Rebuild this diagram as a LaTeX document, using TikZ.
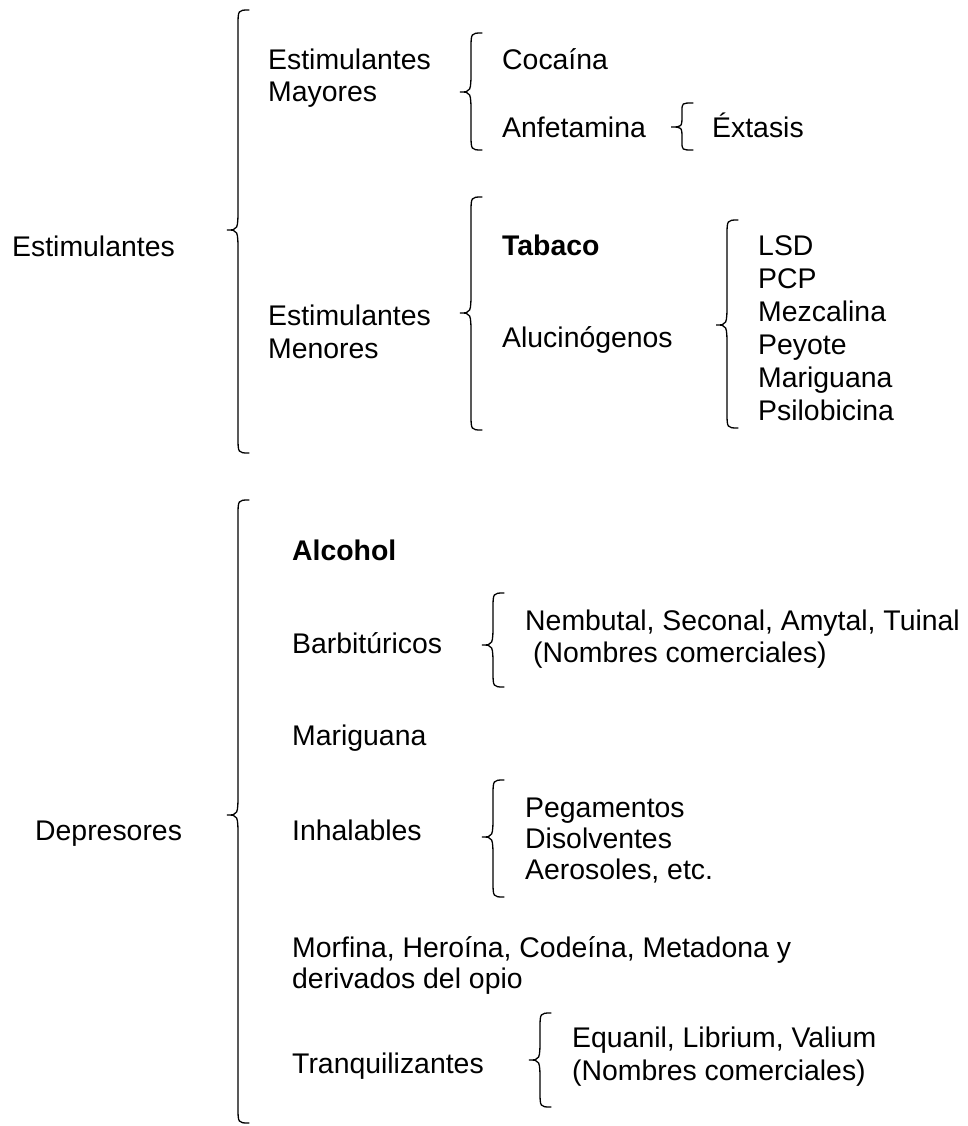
\documentclass[tikz,border=0pt]{standalone}
\usepackage{fontspec}
\setmainfont{Liberation Sans}
\usetikzlibrary{positioning}

% left curly brace: [end radius]{x of stem}{top}{tip}{bottom}
\newcommand{\llave}[5][16]{%
  \draw[llave] (#2+11,#3) .. controls (#2,#3) .. (#2,#3+#1)
    -- (#2,#4-1.5*#1) .. controls (#2,#4) .. (#2-11,#4)
    .. controls (#2,#4) .. (#2,#4+1.5*#1)
    -- (#2,#5-#1) .. controls (#2,#5) .. (#2+11,#5);}

\begin{document}
\begin{tikzpicture}[x=1pt,y=-1pt,
  txt/.style={anchor=base west,inner sep=0pt,font=\fontsize{28.4}{33}\selectfont},
  txtb/.style={txt,font=\fontsize{28.4}{33}\selectfont\bfseries},
  llave/.style={line width=1.3pt,line cap=round}]
\useasboundingbox (0,0) rectangle (967,1126);

% estimulantes
\node[txt] (estim) at (12,256) {Estimulantes};
\llave{238}{10}{230}{453}
\node[txt] (mayA) at (268,70) {Estimulantes};
\node[txt] (mayB) at (268,102) {Mayores};
\llave{471}{33}{92}{150}
\node[txt] (coca) at (502,70) {Cocaína};
\node[txt] (anfe) at (502,138) {Anfetamina};
\llave[8]{682}{103}{127}{150}
\node[txt] (extasis) at (712,138) {Éxtasis};

\node[txt] (menA) at (268,325) {Estimulantes};
\node[txt] (menB) at (268,358) {Menores};
\llave{471}{197}{313}{430}
\node[txtb] (tabaco) at (502,255) {Tabaco};
\node[txt] (aluc) at (502,347) {Alucinógenos};
\llave{727}{220}{325}{428}
\foreach \n [count=\i from 0] in {LSD,PCP,Mezcalina,Peyote,Mariguana,Psilobicina}
  \node[txt] (aluc\i) at (758,255+33*\i) {\n};

% depresores
\node[txt] (depre) at (35,840) {Depresores};
\llave{238}{500}{815}{1123}
\node[txtb] (alcohol) at (292,560) {Alcohol};
\node[txt] (barbi) at (292,653) {Barbitúricos};
\llave{493}{593}{645}{687}
\node[txt] (barbiA) at (525,630) {Nembutal, Seconal, Amytal, Tuinal};
\node[txt] (barbiB) at (533,662) {(Nombres comerciales)};
\node[txt] (mari) at (292,745) {Mariguana};
\node[txt] (inhal) at (292,840) {Inhalables};
\llave{493}{780}{837}{897}
\foreach \n [count=\i from 0] in {Pegamentos,Disolventes,{Aerosoles, etc.}}
  \node[txt] (inhal\i) at (525,817+31*\i) {\n};
\node[txt] (opioA) at (292,957) {Morfina, Heroína, Codeína, Metadona y};
\node[txt] (opioB) at (292,988) {derivados del opio};
\node[txt] (tranq) at (292,1073) {Tranquilizantes};
\llave{540}{1013}{1060}{1107}
\node[txt] (tranqA) at (572,1047) {Equanil, Librium, Valium};
\node[txt] (tranqB) at (572,1080) {(Nombres comerciales)};
\end{tikzpicture}
\end{document}
